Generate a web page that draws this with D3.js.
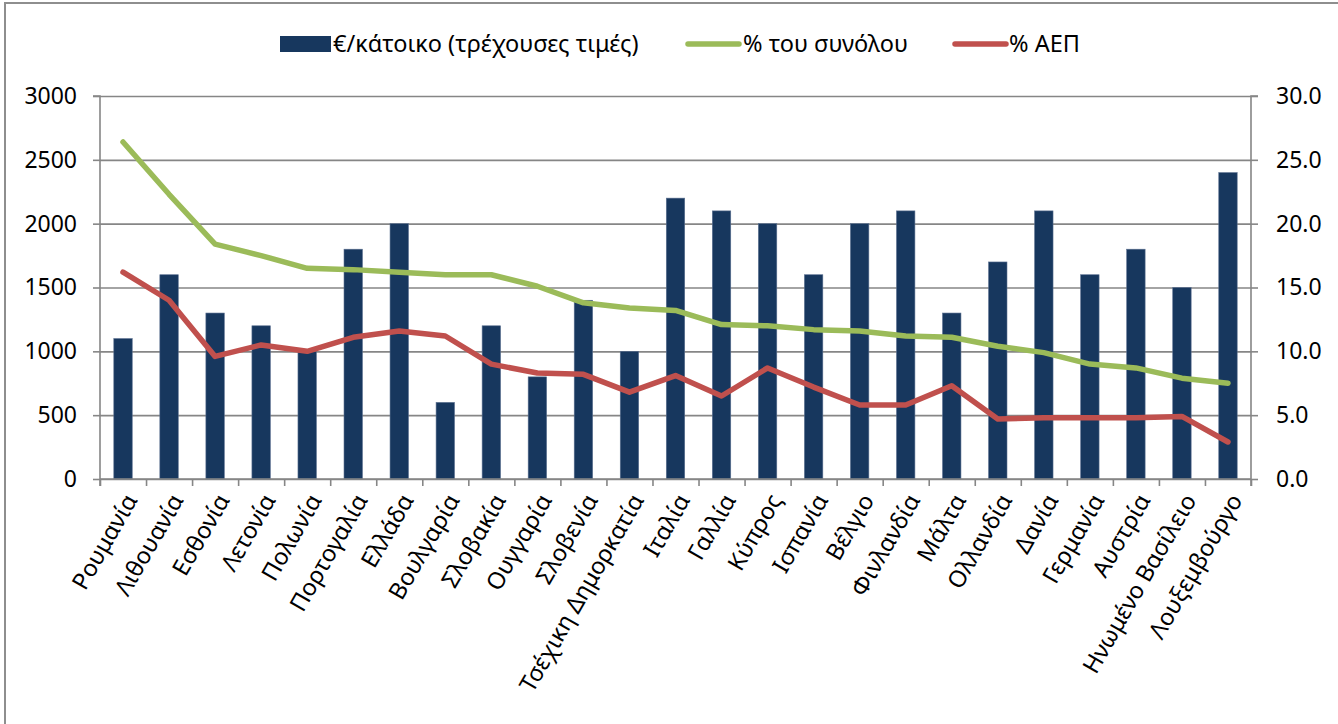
<!DOCTYPE html>
<html>
<head>
<meta charset="utf-8">
<script src="https://cdn.jsdelivr.net/npm/d3@7"></script>
<style>
  html, body { margin: 0; padding: 0; background: #fff; }
  svg { display: block; font-family: "Noto Sans", "Open Sans", sans-serif; }
</style>
</head>
<body>
<svg id="chart" width="1338" height="724"></svg>
<script>
// Countries along the horizontal axis
const categories = [
  "Ρουμανία", "Λιθουανία", "Εσθονία", "Λετονία", "Πολωνία", "Πορτογαλία",
  "Ελλάδα", "Βουλγαρία", "Σλοβακία", "Ουγγαρία", "Σλοβενία", "Τσέχικη Δημορκατία",
  "Ιταλία", "Γαλλία", "Κύπρος", "Ισπανία", "Βέλγιο", "Φινλανδία", "Μάλτα",
  "Ολλανδία", "Δανία", "Γερμανία", "Αυστρία", "Ηνωμένο Βασίλειο", "Λουξεμβούργο"
];

// €/κάτοικο (τρέχουσες τιμές) — left axis
const perCapita = [
  1100, 1600, 1300, 1200, 1000, 1800, 2000, 600, 1200, 800, 1400, 1000,
  2200, 2100, 2000, 1600, 2000, 2100, 1300, 1700, 2100, 1600, 1800, 1500, 2400
];

// % του συνόλου — right axis
const shareOfTotal = [
  26.4, 22.3, 18.4, 17.5, 16.5, 16.4, 16.2, 16.0, 16.0, 15.1, 13.8, 13.4,
  13.2, 12.1, 12.0, 11.7, 11.6, 11.2, 11.1, 10.4, 9.9, 9.0, 8.7, 7.9, 7.5
];

// % ΑΕΠ — right axis
const shareOfGdp = [
  16.2, 14.0, 9.6, 10.5, 10.0, 11.1, 11.6, 11.2, 9.0, 8.3, 8.2, 6.8,
  8.1, 6.5, 8.7, 7.2, 5.8, 5.8, 7.3, 4.7, 4.8, 4.8, 4.8, 4.9, 2.9
];

const leftTicks = [0, 500, 1000, 1500, 2000, 2500, 3000];
const rightTicks = [0, 5, 10, 15, 20, 25, 30];

const legendItems = [
  { label: "€/κάτοικο (τρέχουσες τιμές)", type: "bar", color: "#17375E" },
  { label: "% του συνόλου", type: "line", color: "#9BBB59" },
  { label: "% ΑΕΠ", type: "line", color: "#C0504D" }
];

const svg = d3.select("#chart");
const plot = { left: 100, right: 1251, top: 96, bottom: 479 };
const axisColor = "#868686";
const fontSize = 23;

// Chart frame
svg.append("path")
  .attr("d", "M5,724 L5,3 L1338,3")
  .attr("fill", "none")
  .attr("stroke", "#8e8e8e")
  .attr("stroke-width", 2);

const x = d3.scaleBand()
  .domain(categories)
  .range([plot.left, plot.right])
  .paddingInner(0.6)
  .paddingOuter(0.3);

const yLeft = d3.scaleLinear().domain([0, 3000]).range([plot.bottom, plot.top]);
const yRight = d3.scaleLinear().domain([0, 30]).range([plot.bottom, plot.top]);

// Horizontal gridlines
svg.append("g")
  .attr("transform", `translate(${plot.left},0)`)
  .call(d3.axisLeft(yLeft).tickValues(leftTicks).tickSize(-(plot.right - plot.left)).tickFormat(""))
  .call(g => g.select(".domain").remove())
  .call(g => g.selectAll("line").attr("stroke", axisColor).attr("stroke-width", 1.6));

// Bars
svg.append("g")
  .selectAll("rect")
  .data(categories)
  .join("rect")
  .attr("x", d => x(d))
  .attr("width", x.bandwidth())
  .attr("y", (d, i) => yLeft(perCapita[i]))
  .attr("height", (d, i) => yLeft(0) - yLeft(perCapita[i]))
  .attr("fill", "#17375E")
  .attr("stroke", "#5a6f8f")
  .attr("stroke-width", 0.6);

// Left axis
svg.append("g")
  .attr("transform", `translate(${plot.left},0)`)
  .call(d3.axisLeft(yLeft).tickValues(leftTicks).tickSize(7).tickPadding(16).tickFormat(d3.format("d")))
  .call(g => g.select(".domain").attr("stroke", axisColor).attr("stroke-width", 1.6)
    .attr("d", `M-7,${plot.top}H0V${plot.bottom + 7}`))
  .call(g => g.selectAll("line").attr("stroke", axisColor).attr("stroke-width", 1.6))
  .call(g => g.selectAll("text").attr("fill", "#000").attr("font-size", fontSize)
    .attr("font-family", "Noto Sans"));

// Right axis
svg.append("g")
  .attr("transform", `translate(${plot.right},0)`)
  .call(d3.axisRight(yRight).tickValues(rightTicks).tickSize(7).tickPadding(18).tickFormat(d3.format(".1f")))
  .call(g => g.select(".domain").attr("stroke", axisColor).attr("stroke-width", 1.6)
    .attr("d", `M7,${plot.top}H0V${plot.bottom + 7}`))
  .call(g => g.selectAll("line").attr("stroke", axisColor).attr("stroke-width", 1.6))
  .call(g => g.selectAll("text").attr("fill", "#000").attr("font-size", fontSize)
    .attr("font-family", "Noto Sans"));

// Bottom axis: tick marks sit on category boundaries
const xEdges = d3.scaleLinear().domain([0, categories.length]).range([plot.left, plot.right]);
svg.append("g")
  .attr("transform", `translate(0,${plot.bottom})`)
  .call(d3.axisBottom(xEdges).tickValues(d3.range(categories.length + 1)).tickSize(7).tickFormat(""))
  .call(g => g.select(".domain").attr("stroke", axisColor).attr("stroke-width", 1.6)
    .attr("d", `M${plot.left},0H${plot.right}`))
  .call(g => g.selectAll("line").attr("stroke", axisColor).attr("stroke-width", 1.6));

// Rotated category labels
svg.append("g")
  .selectAll("text")
  .data(categories)
  .join("text")
  .attr("transform", d => `translate(${x(d) + x.bandwidth() / 2 + 8},${plot.bottom + 17}) rotate(-60)`)
  .attr("text-anchor", "end")
  .attr("dy", "0.35em")
  .attr("font-size", 23.5)
  .attr("fill", "#000")
  .text(d => d);

// Lines on the right axis
const cx = d => x(d) + x.bandwidth() / 2;
const drawLine = (values, color) => {
  const line = d3.line()
    .x((d, i) => cx(categories[i]))
    .y(d => yRight(d));
  svg.append("path")
    .datum(values)
    .attr("d", line)
    .attr("fill", "none")
    .attr("stroke", color)
    .attr("stroke-width", 5.5)
    .attr("stroke-linejoin", "round")
    .attr("stroke-linecap", "round");
};
drawLine(shareOfTotal, "#9BBB59");
drawLine(shareOfGdp, "#C0504D");

// Legend
const legendPos = [
  { sx: 280, tx: 333 },
  { sx: 686, tx: 743 },
  { sx: 953, tx: 1009 }
];
const legend = svg.append("g");
legendItems.forEach((item, i) => {
  const p = legendPos[i];
  if (item.type === "bar") {
    legend.append("rect")
      .attr("x", p.sx).attr("y", 36).attr("width", 51).attr("height", 16)
      .attr("fill", item.color);
  } else {
    legend.append("line")
      .attr("x1", p.sx + 2).attr("x2", p.sx + 53)
      .attr("y1", 44).attr("y2", 44)
      .attr("stroke", item.color).attr("stroke-width", 5.5)
      .attr("stroke-linecap", "round");
  }
  legend.append("text")
    .attr("x", p.tx).attr("y", 44)
    .attr("dy", "0.35em")
    .attr("font-size", 23.5)
    .attr("fill", "#000")
    .text(item.label);
});
</script>
</body>
</html>
